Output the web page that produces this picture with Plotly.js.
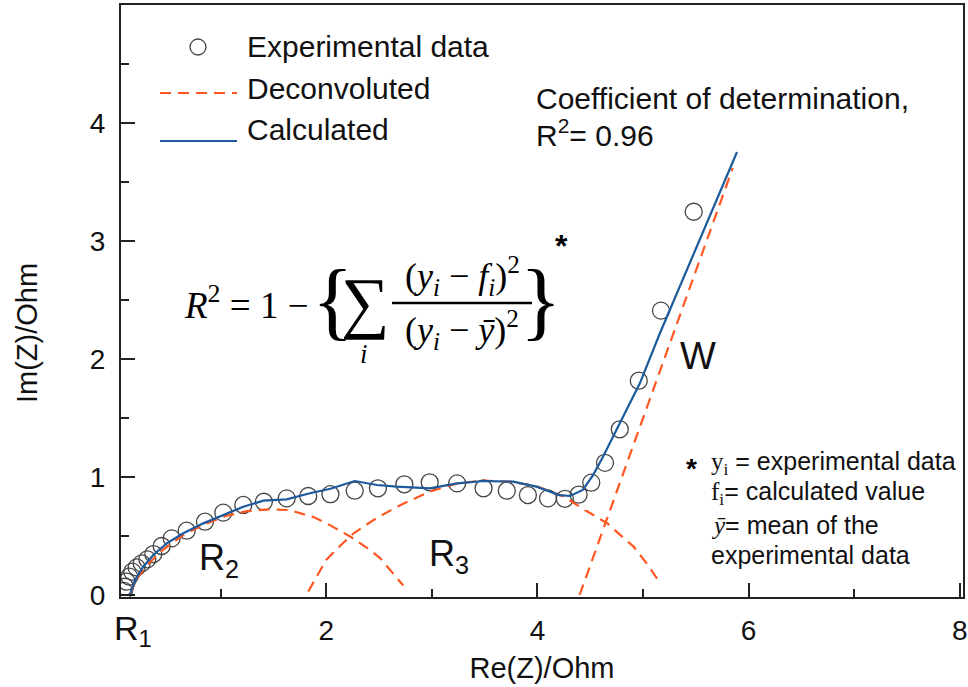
<!DOCTYPE html>
<html>
<head>
<meta charset="utf-8">
<script src="https://cdn.plot.ly/plotly-3.0.1.min.js"></script>
<style>html,body{margin:0;padding:0;background:#fff;}#chart{width:968px;height:687px;}</style>
</head>
<body>
<div id="chart"></div>
<script>
// Experimental data (Nyquist plot)
const expRe = [0.085,0.095,0.11,0.136,0.164,0.205,0.253,0.306,0.363,0.442,0.537,0.679,0.852,1.026,1.215,1.41,1.626,1.83,2.04,2.27,2.49,2.74,2.98,3.24,3.49,3.71,3.91,4.10,4.26,4.39,4.51,4.64,4.78,4.96,5.17,5.48];
const expIm = [0.035,0.07,0.113,0.155,0.198,0.234,0.268,0.302,0.347,0.415,0.48,0.545,0.621,0.698,0.763,0.79,0.819,0.839,0.854,0.884,0.904,0.938,0.955,0.946,0.904,0.884,0.847,0.819,0.815,0.85,0.952,1.12,1.404,1.816,2.41,3.248];

// Calculated fit
const calcRe = [0.142,0.19,0.268,0.363,0.49,0.647,0.836,1.026,1.215,1.405,1.626,1.846,2.04,2.27,2.48,2.67,2.98,3.24,3.49,3.77,3.99,4.21,4.31,4.43,4.53,4.62,4.97,5.16,5.89];
const calcIm = [0,0.127,0.24,0.339,0.438,0.523,0.607,0.678,0.748,0.799,0.811,0.862,0.90,0.966,0.932,0.918,0.904,0.946,0.966,0.96,0.918,0.847,0.839,0.89,1.02,1.17,1.794,2.218,3.754];

// Deconvoluted components
const r2Re = [0.142,0.2,0.3,0.45,0.65,0.85,1.05,1.25,1.45,1.65,1.88,2.04,2.23,2.4,2.51,2.62,2.73];
const r2Im = [0,0.13,0.25,0.38,0.51,0.6,0.67,0.71,0.726,0.72,0.66,0.59,0.494,0.39,0.313,0.2,0.08];
const r3Re = [1.83,1.92,2.0,2.1,2.26,2.45,2.67,2.98,3.24,3.49,3.75,4.0,4.25,4.45,4.66,4.91,5.05,5.17];
const r3Im = [0.03,0.17,0.297,0.39,0.523,0.636,0.748,0.876,0.946,0.97,0.96,0.92,0.833,0.72,0.608,0.41,0.25,0.09];
const wRe = [4.40,5.85];
const wIm = [0.0,3.62];

const xTickVals = [2,4,6,8];
const yTickVals = [0,1,2,3,4];

const RED = '#FF5722', BLUE = '#1C5A9C', GREY = '#444444';
const SANS = 'Liberation Sans, Arial, sans-serif';
const SERIF = 'Liberation Serif, Times New Roman, serif';

const L=121, R=963, T=5, B=597;
const px = x => (x-L)/(R-L);
const py = y => (B-y)/(B-T);

const dash = '11px,7px';
const traces = [
  {x: expRe, y: expIm, mode:'markers', type:'scatter', name:'Experimental data',
   marker:{symbol:'circle-open', size:17, color:GREY, line:{width:1.3, color:GREY}}},
  {x: r2Re, y: r2Im, mode:'lines', type:'scatter', name:'Deconvoluted', line:{color:RED, width:2.2, dash:dash}},
  {x: r3Re, y: r3Im, mode:'lines', type:'scatter', name:'Deconvoluted', line:{color:RED, width:2.2, dash:dash}},
  {x: wRe, y: wIm, mode:'lines', type:'scatter', name:'Deconvoluted', line:{color:RED, width:2.2, dash:dash}},
  {x: calcRe, y: calcIm, mode:'lines', type:'scatter', name:'Calculated', line:{color:BLUE, width:2.2}}
];

function ann(text, x, y, opts){
  return Object.assign({text:text, x:px(x), y:py(y), xref:'paper', yref:'paper', showarrow:false,
    xanchor:'left', yanchor:'middle', font:{family:SANS, size:30, color:'#111'}}, opts||{});
}
const annotations = [
  ann('Experimental data', 245, 46),
  ann('Deconvoluted', 245, 88),
  ann('Calculated', 245, 129),
  ann('Coefficient of determination,', 534, 98),
  ann('R<sup>2</sup>= 0.96', 534, 133),
  ann('W', 698, 356, {xanchor:'center', font:{family:SANS, size:38, color:'#111'}}),
  ann('R<sub>2</sub>', 197, 560, {font:{family:SANS, size:36, color:'#111'}}),
  ann('R<sub>3</sub>', 427, 556, {font:{family:SANS, size:36, color:'#111'}}),
  ann('R<sub>1</sub>', 112, 630, {font:{family:SANS, size:34, color:'#111'}}),
  ann('Im(Z)/Ohm', 27, 333, {xanchor:'center', textangle:-90, font:{family:SANS, size:29, color:'#111'}}),
  // formula
  ann('<i>R</i><sup>2</sup> = 1 −', 182, 302, {font:{family:SERIF, size:37, color:'#000'}}),
  ann('{', 332, 300, {xanchor:'center', font:{family:SERIF, size:86, color:'#000'}}),
  ann('∑', 365, 302, {xanchor:'center', font:{family:SERIF, size:68, color:'#000'}}),
  ann('<i>i</i>', 364, 354, {xanchor:'center', font:{family:SERIF, size:27, color:'#000'}}),
  ann('(<i>y<sub>i</sub></i> − <i>f<sub>i</sub></i>)<sup>2</sup>', 462, 276, {xanchor:'center', font:{family:SERIF, size:36, color:'#000'}}),
  ann('(<i>y<sub>i</sub></i> − <i>ȳ</i>)<sup>2</sup>', 462, 330, {xanchor:'center', font:{family:SERIF, size:36, color:'#000'}}),
  ann('}', 540, 300, {xanchor:'center', font:{family:SERIF, size:86, color:'#000'}}),
  ann('<b>*</b>', 561, 246, {xanchor:'center', font:{family:SANS, size:32, color:'#000'}}),
  // footnote
  ann('<b>*</b>', 691, 468, {xanchor:'center', font:{family:SANS, size:28, color:'#000'}}),
  ann('<span style="font-family:Liberation Serif">y<sub>i</sub></span> = experimental data', 709, 463, {font:{family:SANS, size:25, color:'#111'}}),
  ann('<span style="font-family:Liberation Serif">f<sub>i</sub></span>= calculated value', 709, 493, {font:{family:SANS, size:25, color:'#111'}}),
  ann('<span style="font-family:Liberation Serif"><i>ȳ</i></span>= mean of the', 709, 525, {font:{family:SANS, size:25, color:'#111'}}),
  ann('experimental data', 709, 555, {font:{family:SANS, size:25, color:'#111'}})
];

const shapes = [
  // legend symbols
  {type:'circle', xref:'paper', yref:'paper', x0:px(190), x1:px(206), y0:py(55), y1:py(39), line:{color:GREY, width:1.3}},
  {type:'line', xref:'paper', yref:'paper', x0:px(160), x1:px(237), y0:py(93), y1:py(93), line:{color:RED, width:2.2, dash:dash}},
  {type:'line', xref:'paper', yref:'paper', x0:px(160), x1:px(237), y0:py(141), y1:py(141), line:{color:BLUE, width:2.2}},
  // fraction bar
  {type:'line', xref:'paper', yref:'paper', x0:px(392), x1:px(532), y0:py(303), y1:py(303), line:{color:'#000', width:2.5}}
];

const axisCommon = {
  showgrid:false, zeroline:false, showline:true, linecolor:'#222', linewidth:2, mirror:true,
  ticks:'inside', tickcolor:'#222', tickwidth:2, ticklen:14,
  tickfont:{family:SANS, size:28, color:'#111'}
};

const layout = {
  width:968, height:687,
  margin:{l:L, r:968-R, t:T, b:687-B, pad:0},
  paper_bgcolor:'#fff', plot_bgcolor:'#fff',
  showlegend:false,
  xaxis: Object.assign({}, axisCommon, {
    range:[0.057, 8.03], tickvals:xTickVals, ticktext:xTickVals.map(String),
    ticklabelstandoff:7,
    minor:{ticks:'inside', ticklen:8, tickwidth:2, tickcolor:'#222', dtick:1, tick0:0},
    title:{text:'Re(Z)/Ohm', font:{family:SANS, size:29, color:'#111'}, standoff:13}
  }),
  yaxis: Object.assign({}, axisCommon, {
    range:[-0.017, 5.0], tickvals:yTickVals, ticktext:yTickVals.map(String),
    ticklabelstandoff:8,
    minor:{ticks:'inside', ticklen:8, tickwidth:2, tickcolor:'#222', dtick:0.5, tick0:0},
    title:{text:''}
  }),
  annotations: annotations,
  shapes: shapes
};

Plotly.newPlot('chart', traces, layout, {displayModeBar:false, staticPlot:true});
</script>
</body>
</html>
